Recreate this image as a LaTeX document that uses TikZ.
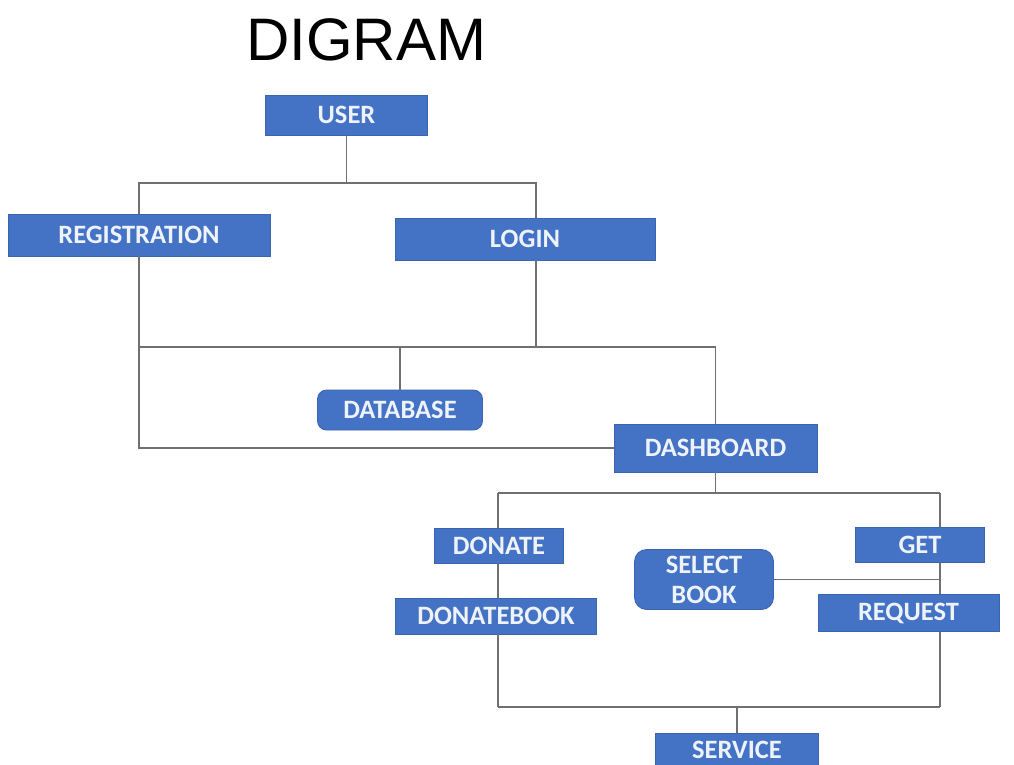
\documentclass[tikz,border=0pt]{standalone}
\usepackage{fontspec}
\setmainfont{Carlito}
\newfontfamily\titlefont{Liberation Sans}
\definecolor{boxblue}{HTML}{4472C4}
\definecolor{boxedge}{HTML}{3A64AE}
\definecolor{linegray}{HTML}{707070}
\definecolor{boxtext}{HTML}{EEF3FB}
\begin{document}
\begin{tikzpicture}[x=1pt,y=-1pt,
  box/.style={fill=boxblue,draw=boxedge,line width=0.8pt,text=boxtext,
    font=\bfseries\fontsize{26.5}{29}\selectfont,inner sep=0pt,align=center},
  rbox/.style={box,rounded corners=9pt},
  conn/.style={draw=linegray,line width=1.6pt}]
\useasboundingbox (0,0) rectangle (1014,764);
\node[font=\titlefont\fontsize{60}{60}\selectfont,text=black] (title) at (366,40) {DIGRAM};
\node[box,minimum width=162pt,minimum height=40pt] (user) at (346.5,115) {USER};
\node[box,minimum width=262pt,minimum height=42pt] (reg) at (139,235) {REGISTRATION};
\node[box,minimum width=260pt,minimum height=42pt] (login) at (525,239) {LOGIN};
\node[rbox,minimum width=165pt,minimum height=40pt] (db) at (400,410) {DATABASE};
\node[box,minimum width=203pt,minimum height=48pt] (dash) at (715.5,448) {DASHBOARD};
\node[box,minimum width=129pt,minimum height=35pt] (donate) at (499,545.5) {DONATE};
\node[rbox,minimum width=139pt,minimum height=60pt,rounded corners=12pt] (select) at (704,579.5) {SELECT\\[1pt]BOOK};
\node[box,minimum width=129pt,minimum height=35pt] (get) at (920,545) {GET};
\node[box,minimum width=201pt,minimum height=36pt] (donatebook) at (496,616) {DONATEBOOK};
\node[box,minimum width=181pt,minimum height=37pt] (request) at (908.5,613) {REQUEST};
\node[box,minimum width=163pt,minimum height=34pt] (service) at (737,750) {SERVICE};
% junction points
\coordinate (tl) at (139,183);
\coordinate (tr) at (536,183);
\coordinate (ml) at (139,347);
\coordinate (mr) at (716,347);
\coordinate (dl) at (498,493);
\coordinate (dr) at (940,493);
\coordinate (bl) at (498,707);
\coordinate (br) at (940,707);
% top
\draw[conn] (user.south) -- (user.south |- tl);
\draw[conn] (reg.north) -- (tl) -- (tr) -- (tr |- login.north);
% middle
\draw[conn] (reg.south) |- (dash.west);
\draw[conn] (ml) -| (dash.north);
\draw[conn] (db.north) -- (db.north |- ml);
\draw[conn] (login.south -| tr) -- (tr |- ml);
% lower
\draw[conn] (dash.south) -- (dash.south |- dl);
\draw[conn] (dl) -- (dr);
\draw[conn] (dl) -- (donate.north -| dl);
\draw[conn] (donate.south -| dl) -- (donatebook.north -| dl);
\draw[conn] (donatebook.south -| dl) -- (bl);
\draw[conn] (dr) -- (get.north -| dr);
\draw[conn] (get.south -| dr) -- (request.north -| dr);
\draw[conn] (request.south -| dr) -- (br);
\draw[conn] (select.east) -- (select.east -| dr);
\draw[conn] (bl) -- (br);
\draw[conn] (service.north) -- (service.north |- bl);
\end{tikzpicture}
\end{document}
